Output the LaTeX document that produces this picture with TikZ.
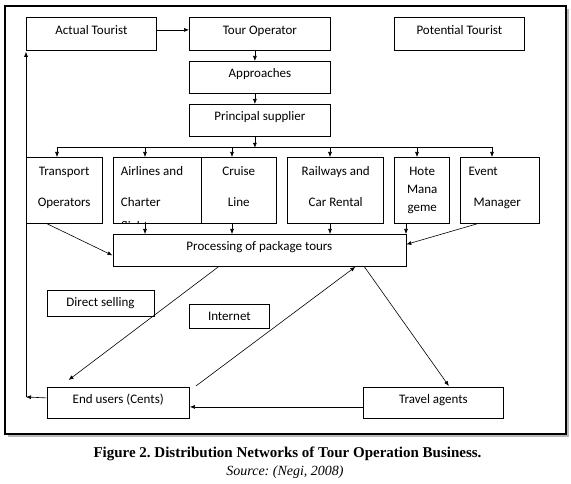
\documentclass[tikz,border=0pt]{standalone}
\usepackage{fontspec}
\setmainfont{Liberation Serif}
\newfontfamily\boxfont{Carlito}
\usetikzlibrary{positioning,arrows.meta}
\frenchspacing

\begin{document}
\begin{tikzpicture}[x = 1pt, y = -1pt,
    box/.style 2 args = {draw, line width = 0.8pt, inner sep = 0pt, anchor = north west,
      minimum width = #1, minimum height = #2, font = \boxfont\fontsize{13}{15}\selectfont},
    high/.style = {text height = 9pt, text depth = 8pt},
    lbl/.style = {inner sep = 0pt, font = \boxfont\fontsize{13}{31}\selectfont},
    arr/.style = {-{Latex[length = 5pt, width = 4pt]}, line width = 0.6pt}]
  \useasboundingbox (0, 0) rectangle (571, 484);
  \fill[gray!55] (8, 9) rectangle (569, 437);
  \draw[line width = 1.4pt, fill = white] (5, 6) rectangle (566, 434);

  % top row
  \node[box = {130pt}{33pt}, high] (actual) at (26, 17) {Actual Tourist};
  \node[box = {141pt}{33pt}, high] (tour) at (189, 17) {Tour Operator};
  \node[box = {130pt}{33pt}, high] (potential) at (394, 17) {Potential Tourist};
  \node[box = {141pt}{32pt}, high] (appr) at (189, 61) {Approaches};
  \node[box = {141pt}{32pt}, high] (supp) at (189, 104) {Principal supplier};

  % suppliers
  \node[box = {75.5pt}{66pt}] (trn) at (26, 157) {};
  \node[box = {88pt}{66pt}] (air) at (112.7, 157) {};
  \node[box = {75.3pt}{66pt}] (cru) at (200.7, 157) {};
  \node[box = {96pt}{66pt}] (rail) at (287.3, 157) {};
  \node[box = {55pt}{66pt}] (hotel) at (394.3, 157) {};
  \node[box = {79pt}{66pt}] (event) at (460.3, 157) {};

  \node[lbl, align = center, below = 9.5pt of trn.north] (trntxt) {Transport\\Operators};
  \begin{scope}
    \clip (air.north west) rectangle (air.south east);
    \node[lbl, align = left, below right = 9.5pt and 8pt of air.north west] (airtxt) {Airlines and\\Charter\\[-7pt]flight};
  \end{scope}
  \node[lbl, align = center, below = 9.5pt of cru.north] (crutxt) {Cruise\\Line};
  \node[lbl, align = center, below = 9.5pt of rail.north] (railtxt) {Railways and\\Car Rental};
  \node[lbl, align = center, font = \boxfont\fontsize{13}{18}\selectfont, below = 9.5pt of hotel.north] (hoteltxt) {Hote\\Mana\\geme};
  \node[lbl, align = left, below right = 9.5pt and 8pt of event.north west] (eventtxt) {Event\\\hspace*{5pt}Manager};

  \node[box = {293pt}{32pt}, high] (proc) at (112.5, 234) {Processing of package tours};
  \node[box = {107pt}{26pt}] (direct) at (46.6, 290) {Direct selling};
  \node[box = {80pt}{24pt}] (net) at (189, 304) {Internet};
  \node[box = {142.5pt}{31pt}, high] (users) at (46.6, 387) {End users (Cents)};
  \node[box = {140pt}{31pt}, high] (agents) at (363, 387) {Travel agents};

  \node[font = \bfseries\fontsize{15}{17}\selectfont] (cap) at (287.5, 454) {Figure 2. Distribution Networks of Tour Operation Business.};
  \node[font = \itshape\fontsize{14}{16}\selectfont] (src) at (285, 472) {Source: (Negi, 2008)};

  % arrows
  \draw[arr] ([yshift = 4pt]actual.east) -- ([yshift = 4pt]tour.west);
  \draw[arr] ([xshift = -5pt]tour.south) -- ([xshift = -5pt]appr.north);
  \draw[arr] ([xshift = -5pt]appr.south) -- ([xshift = -5pt]supp.north);
  \coordinate (jn) at ([xshift = -5pt, yshift = -11pt]supp.south);
  \draw[arr] ([xshift = -5pt]supp.south) -- (jn);
  \draw[line width = 0.6pt] (57, 147) -- (492, 147);
  \foreach \n/\x in {trn/57, air/145, cru/232, rail/330, hotel/417, event/492}
    \draw[arr] (\x, 147) -- (\x, 0 |- \n.north);
  \foreach \n/\x in {air/145, cru/232, rail/330, hotel/406}
    \draw[arr] (\x, 0 |- \n.south) -- (\x, 0 |- proc.north);
  \draw[arr] ([xshift = -17pt]trn.south) -- ([yshift = -5pt]proc.west);
  \draw[arr] ([xshift = -23pt]event.south) -- ([yshift = 6pt]proc.east);

  \draw[arr] ([xshift = -41pt]proc.south) -- ([xshift = 22pt, yshift = 7pt]users.north west);
  \draw[arr] ([xshift = 6pt, yshift = 1pt]users.north east) -- ([xshift = 96pt]proc.south);
  \draw[arr] ([xshift = 105pt]proc.south) -- ([xshift = 15.5pt, yshift = 1pt]agents.north);
  \draw[arr] ([yshift = -4pt]agents.west) -- ([yshift = -4pt]users.east);

  \coordinate (lc) at (actual.south west |- 0, 397);
  \draw[arr] ([yshift = 5pt]users.west) -- (lc);
  \draw[arr, shorten > = 1pt] (lc) -- (actual.south west);
\end{tikzpicture}
\end{document}
